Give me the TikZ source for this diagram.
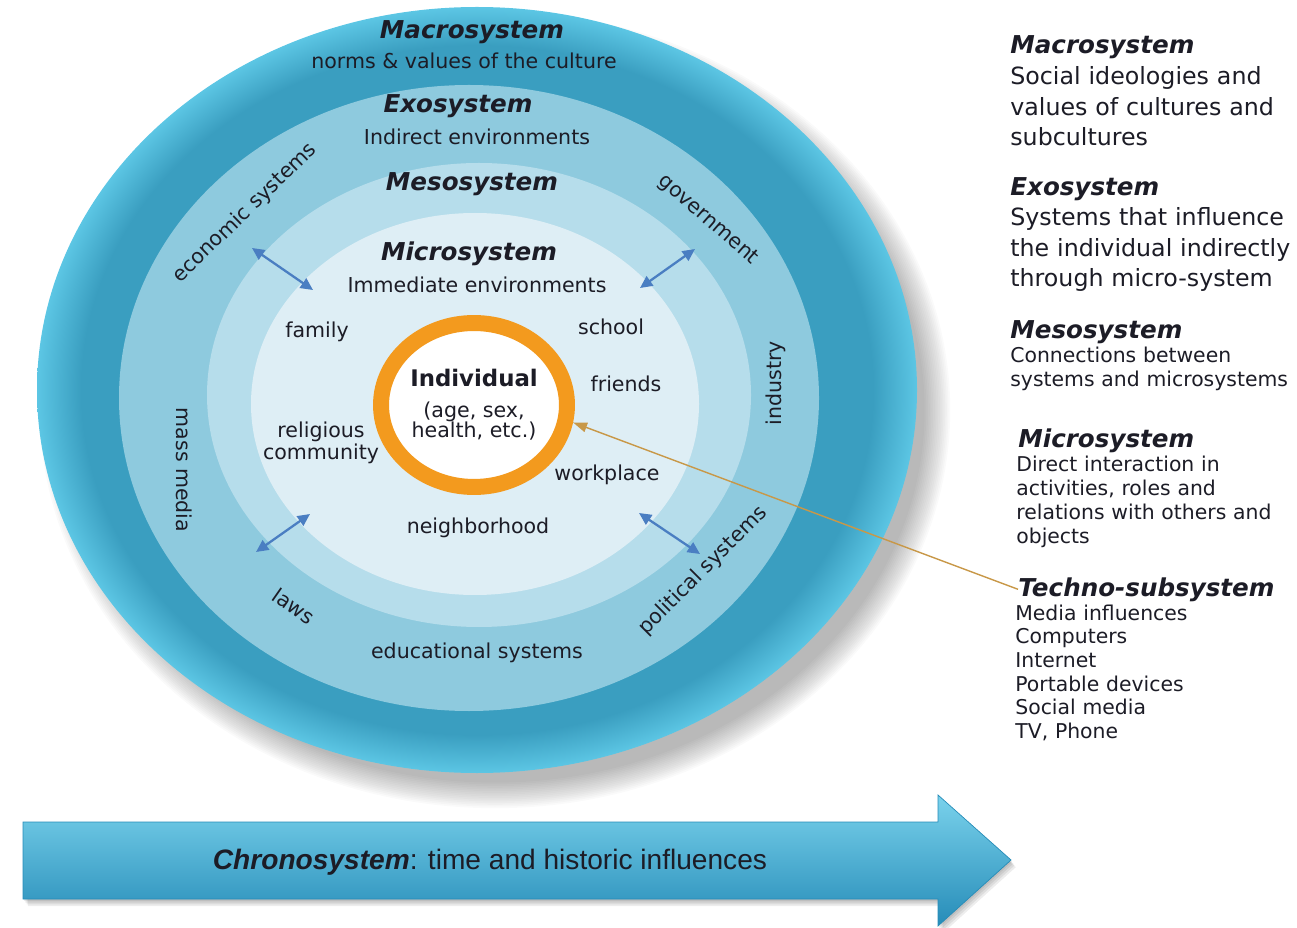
\documentclass[tikz,border=0pt]{standalone}
\usepackage{fontspec}
\setmainfont{DejaVu Sans}
\newfontfamily\chronofont{Liberation Sans}
\definecolor{macroblue}{RGB}{58,158,192}
\definecolor{rimcyan}{RGB}{92,198,228}
\definecolor{exoblue}{RGB}{142,202,222}
\definecolor{mesoblue}{RGB}{182,221,235}
\definecolor{microblue}{RGB}{222,238,245}
\definecolor{indorange}{RGB}{243,154,30}
\definecolor{linkblue}{RGB}{74,126,194}
\definecolor{techtan}{RGB}{200,152,72}
\definecolor{inktext}{RGB}{28,28,38}
\definecolor{chronotop}{RGB}{122,210,236}
\definecolor{chronomid}{RGB}{58,176,214}
\definecolor{chronobot}{RGB}{38,140,184}
\usetikzlibrary{arrows.meta, shapes.geometric}
\pgfdeclareradialshading{macroshade}{\pgfpoint{0bp}{0bp}}{color(0bp)=(macroblue); color(22.5bp)=(macroblue); color(25bp)=(rimcyan); color(50bp)=(rimcyan)}
\newcommand{\chronoshape}{(23,822) -- (938,822) -- (938,795) -- (1011,860) -- (938,926) -- (938,899) -- (23,899) -- cycle}
\tikzset{
  ringtitle/.style={font=\fontsize{14}{16}\selectfont\bfseries\itshape, text=inktext, inner sep=1pt},
  ringlabel/.style={font=\fontsize{11.7}{12.5}\selectfont, text=inktext, inner sep=1pt},
  sidetitle/.style={font=\fontsize{14}{16}\selectfont\bfseries\itshape, text=inktext, inner sep=0pt, anchor=base west},
  sidetext/.style={font=\fontsize{13.5}{17.1}\selectfont, text=inktext, inner sep=0pt, anchor=base west, text width=6cm, align=left},
  sidesmall/.style={font=\fontsize{11.6}{13.5}\selectfont, text=inktext, inner sep=0pt, anchor=base west, text width=6cm, align=left},
  linkarrow/.style={{Triangle[length=7pt,width=6.5pt]}-{Triangle[length=7pt,width=6.5pt]}, draw=linkblue, line width=1.3pt},
  techarrow/.style={-{Triangle[length=8pt,width=5.5pt]}, draw=techtan, line width=0.8pt},
  indivring/.style={ellipse, draw=indorange, fill=white, line width=9.1pt, minimum width=3.72cm, minimum height=3.28cm, inner sep=0pt, align=center, text=inktext, font=\fontsize{11.7}{11.5}\selectfont}
}

\begin{document}
\begin{tikzpicture}[x=0.02cm, y=-0.02cm]
  \useasboundingbox (0,0) rectangle (1297,928);

  % soft shadow behind the rings
  \foreach \k in {1,...,16}
    \fill[black, opacity=0.02] (495,410) ellipse [x radius=428+1.7*\k, y radius=371+1.7*\k];

  % nested systems
  \shade[shading=macroshade] (477,390) ellipse [x radius=440, y radius=383];
  \fill[exoblue] (469,398) ellipse [x radius=350, y radius=313];
  \fill[mesoblue] (479,395) ellipse [x radius=272, y radius=232];
  \fill[microblue] (475,404) ellipse [x radius=224, y radius=191];

  % ring titles
  \node[ringtitle] (macroTitle) at (472,32) {Macrosystem};
  \node[ringlabel] (macroSub) at (464,61) {norms \& values of the culture};
  \node[ringtitle] (exoTitle) at (458,106) {Exosystem};
  \node[ringlabel] (exoSub) at (477,137) {Indirect environments};
  \node[ringtitle] (mesoTitle) at (472,184) {Mesosystem};
  \node[ringtitle] (microTitle) at (469,254) {Microsystem};
  \node[ringlabel] (microSub) at (477,285) {Immediate environments};

  % exosystem settings
  \node[ringlabel, rotate=44] (economic) at (245,213) {economic systems};
  \node[ringlabel, rotate=-41] (government) at (708,220) {government};
  \node[ringlabel, rotate=90] (industry) at (776,383) {industry};
  \node[ringlabel, rotate=45] (political) at (703,571) {political systems};
  \node[ringlabel] (educational) at (477,653) {educational systems};
  \node[ringlabel, rotate=-35] (laws) at (294,606) {laws};
  \node[ringlabel, rotate=-90] (massmedia) at (184,470) {mass media};

  % microsystem settings
  \node[ringlabel] (family) at (317,332) {family};
  \node[ringlabel] (school) at (611,327) {school};
  \node[ringlabel] (friends) at (626,384) {friends};
  \node[ringlabel, align=center] (religious) at (321,443) {religious\\community};
  \node[ringlabel] (workplace) at (607,475) {workplace};
  \node[ringlabel] (neighborhood) at (478,528) {neighborhood};

  % the individual
  \node[indivring] (indiv) at (474,405) {{\fontsize{13}{15}\selectfont\bfseries Individual}\\[6pt](age, sex,\\health, etc.)};

  % mesosystem links
  \coordinate (econEnd) at (252,248);   \coordinate (econMicro) at (313,290);
  \coordinate (govEnd) at (695,249);    \coordinate (govMicro) at (640,288);
  \coordinate (mediaEnd) at (256,552);  \coordinate (mediaMicro) at (310,514);
  \coordinate (polEnd) at (700,554);    \coordinate (polMicro) at (639,513);
  \draw[linkarrow] (econEnd) -- (econMicro);
  \draw[linkarrow] (govEnd) -- (govMicro);
  \draw[linkarrow] (mediaEnd) -- (mediaMicro);
  \draw[linkarrow] (polEnd) -- (polMicro);

  % side notes
  \node[sidetitle] (macroSide) at (1010,54) {Macrosystem};
  \node[sidetext] (macroNote) at (1010,85) {Social ideologies and\\values of cultures and\\subcultures};
  \node[sidetitle] (exoSide) at (1010,196) {Exosystem};
  \node[sidetext] (exoNote) at (1010,226) {Systems that influence\\the individual indirectly\\through micro-system};
  \node[sidetitle] (mesoSide) at (1010,339) {Mesosystem};
  \node[sidesmall] (mesoNote) at (1010,363) {Connections between\\systems and microsystems};
  \node[sidetitle] (microSide) at (1018,448) {Microsystem};
  \node[sidesmall] (microNote) at (1016,472) {Direct interaction in\\activities, roles and\\relations with others and\\objects};
  \node[sidetitle] (technoSide) at (1018,596) {Techno-subsystem};
  \node[sidesmall] (technoNote) at (1015,620) {Media influences\\Computers\\Internet\\Portable devices\\Social media\\TV, Phone};

  \draw[techarrow] (technoSide.west) -- (indiv.-10);

  % chronosystem arrow
  \foreach \k in {1,...,4}
    \fill[black, opacity=0.07, shift={(1.2*\k,1.8*\k)}] \chronoshape;
  \shadedraw[top color=chronotop, middle color=chronomid, bottom color=chronobot, draw=chronobot, line width=0.4pt] \chronoshape;
  \node[font=\chronofont\fontsize{16}{19}\selectfont, text=inktext] (chronoText) at (490,862) {\textbf{\textit{Chronosystem}}: time and historic influences};
\end{tikzpicture}
\end{document}
